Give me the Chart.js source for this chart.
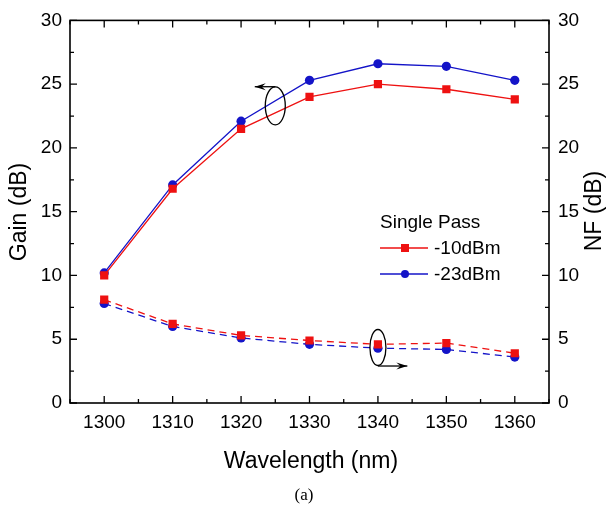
<!DOCTYPE html>
<html>
<head>
<meta charset="utf-8">
<script src="https://cdn.jsdelivr.net/npm/chart.js@4.4.1/dist/chart.umd.min.js"></script>
<style>
  body { margin: 0; background: #fff; }
  #wrap { width: 610px; height: 506px; }
</style>
</head>
<body>
<div id="wrap"><canvas id="gainChart" width="610" height="506"></canvas></div>
<script>
// wavelength points (nm)
const wavelengths = [1300, 1310, 1320, 1330, 1340, 1350, 1360];

// gain (dB), left axis
const gainLow = [10.0, 16.8, 21.5, 24.0, 25.0, 24.6, 23.8];   // -10dBm
const gainHigh = [10.2, 17.1, 22.1, 25.3, 26.6, 26.4, 25.3];  // -23dBm

// noise figure (dB), right axis
const nfLow = [8.1, 6.2, 5.3, 4.9, 4.6, 4.7, 3.9];
const nfHigh = [7.8, 6.0, 5.1, 4.6, 4.3, 4.2, 3.6];

const seriesNames = ['-10dBm', '-23dBm'];
const yTicks = [0, 5, 10, 15, 20, 25, 30];

const RED = '#ee1111';
const BLUE = '#1414c8';
const FONT = "'Liberation Sans', Arial, sans-serif";

function pts(ys) {
    return wavelengths.map((x, i) => ({ x: x, y: ys[i] }));
}

// ellipse + arrow markers (data units: centre, arrow start/end)
const callouts = [
    { cx: 1325, cy: 23.3, rx: 10, ry: 19, ax: [1325, 24.8], bx: [1322, 24.8] },
    { cx: 1340, cy: 4.35, rx: 8, ry: 18, ax: [1340, 2.9], bx: [1344.3, 2.9] }
];

const framePlugin = {
    id: 'frame',
    afterDatasetsDraw(chart) {
        const ctx = chart.ctx;
        const a = chart.chartArea;
        const xs = chart.scales.x, yl = chart.scales.y;

        ctx.save();
        ctx.strokeStyle = '#000';
        ctx.lineWidth = 1.6;
        ctx.strokeRect(a.left, a.top, a.right - a.left, a.bottom - a.top);

        // inward ticks on all four sides
        ctx.lineWidth = 1.3;
        ctx.beginPath();
        for (let v = 1295; v <= 1365; v += 5) {
            const px = xs.getPixelForValue(v);
            const len = v % 10 === 0 ? 7 : 4;
            ctx.moveTo(px, a.bottom); ctx.lineTo(px, a.bottom - len);
            ctx.moveTo(px, a.top); ctx.lineTo(px, a.top + len);
        }
        for (let v = 0; v <= 30; v += 2.5) {
            const py = yl.getPixelForValue(v);
            const len = v % 5 === 0 ? 7 : 4;
            ctx.moveTo(a.left, py); ctx.lineTo(a.left + len, py);
            ctx.moveTo(a.right, py); ctx.lineTo(a.right - len, py);
        }
        ctx.stroke();

        // ellipses with arrows pointing to their axis
        ctx.lineWidth = 1.3;
        callouts.forEach(c => {
            const cx = xs.getPixelForValue(c.cx), cy = yl.getPixelForValue(c.cy);
            ctx.beginPath();
            ctx.ellipse(cx, cy, c.rx, c.ry, 0, 0, Math.PI * 2);
            ctx.stroke();
            const x0 = xs.getPixelForValue(c.ax[0]), y0 = yl.getPixelForValue(c.ax[1]);
            const x1 = xs.getPixelForValue(c.bx[0]), y1 = yl.getPixelForValue(c.bx[1]);
            ctx.beginPath();
            ctx.moveTo(x0, y0); ctx.lineTo(x1, y1);
            ctx.stroke();
            const dir = Math.sign(x1 - x0);
            ctx.beginPath();
            ctx.moveTo(x1, y1);
            ctx.lineTo(x1 - dir * 11, y1 - 3.5);
            ctx.lineTo(x1 - dir * 7, y1);
            ctx.lineTo(x1 - dir * 11, y1 + 3.5);
            ctx.closePath();
            ctx.fillStyle = '#000';
            ctx.fill();
        });

        // legend
        ctx.fillStyle = '#000';
        ctx.font = '19px ' + FONT;
        ctx.textBaseline = 'middle';
        ctx.textAlign = 'left';
        ctx.fillText('Single Pass', 380, 223);
        const rows = [
            { name: seriesNames[0], color: RED, y: 248, shape: 'rect' },
            { name: seriesNames[1], color: BLUE, y: 274, shape: 'circle' }
        ];
        rows.forEach(r => {
            ctx.strokeStyle = r.color;
            ctx.lineWidth = 1.3;
            ctx.beginPath();
            ctx.moveTo(380, r.y); ctx.lineTo(428, r.y);
            ctx.stroke();
            ctx.fillStyle = r.color;
            ctx.beginPath();
            if (r.shape === 'rect') ctx.rect(401, r.y - 4, 8, 8);
            else ctx.arc(405, r.y, 4, 0, Math.PI * 2);
            ctx.fill();
            ctx.fillStyle = '#000';
            ctx.fillText(r.name, 434, r.y + 1);
        });
        ctx.restore();
    },
    afterDraw(chart) {
        const ctx = chart.ctx;
        ctx.save();
        ctx.fillStyle = '#000';
        ctx.textAlign = 'center';
        ctx.textBaseline = 'middle';
        ctx.font = '23px ' + FONT;
        ctx.fillText('Wavelength (nm)', 311, 462);

        // both side titles read bottom-to-top
        ctx.translate(20, 212);
        ctx.rotate(-Math.PI / 2);
        ctx.fillText('Gain (dB)', 0, 0);
        ctx.rotate(Math.PI / 2);
        ctx.translate(575, -1);
        ctx.rotate(-Math.PI / 2);
        ctx.fillText('NF (dB)', 0, 0);
        ctx.restore();

        ctx.save();
        ctx.fillStyle = '#000';
        ctx.textAlign = 'center';
        ctx.textBaseline = 'middle';
        ctx.font = "17px 'Liberation Serif', 'Times New Roman', serif";
        ctx.fillText('(a)', 304, 496);
        ctx.restore();
    }
};

function lineSet(label, ys, color, shape, axis, dashed) {
    return {
        label: label,
        data: pts(ys),
        yAxisID: axis,
        borderColor: color,
        backgroundColor: color,
        borderWidth: 1.3,
        borderDash: dashed ? [7, 5] : [],
        pointStyle: shape,
        pointRadius: shape === 'rect' ? 5.8 : 4.6,
        pointBorderWidth: 0,
        pointBackgroundColor: color,
        tension: 0
    };
}

const tickFont = { family: FONT, size: 19 };

new Chart(document.getElementById('gainChart'), {
    type: 'line',
    data: {
        datasets: [
            lineSet(seriesNames[0], gainLow, RED, 'rect', 'y', false),
            lineSet(seriesNames[0] + ' NF', nfLow, RED, 'rect', 'y2', true),
            lineSet(seriesNames[1], gainHigh, BLUE, 'circle', 'y', false),
            lineSet(seriesNames[1] + ' NF', nfHigh, BLUE, 'circle', 'y2', true)
        ]
    },
    options: {
        responsive: false,
        animation: false,
        layout: { padding: { top: 18, left: 0, right: 0, bottom: 0 } },
        plugins: { legend: { display: false }, tooltip: { enabled: false } },
        scales: {
            x: {
                type: 'linear',
                min: 1295,
                max: 1365,
                afterFit(s) { s.height = 103; },
                afterBuildTicks(s) {
                    s.ticks = [];
                    for (let v = 1295; v <= 1365; v += 5) s.ticks.push({ value: v });
                },
                ticks: {
                    autoSkip: false,
                    maxRotation: 0,
                    padding: 8,
                    color: '#000',
                    font: tickFont,
                    callback: v => (v % 10 === 0 ? String(v) : '')
                },
                grid: { display: false, drawTicks: false },
                border: { display: false }
            },
            y: {
                position: 'left',
                min: 0,
                max: 30,
                afterFit(s) { s.width = 70; },
                afterBuildTicks(s) { s.ticks = yTicks.map(v => ({ value: v })); },
                ticks: { padding: 8, color: '#000', font: tickFont },
                grid: { display: false, drawTicks: false },
                border: { display: false }
            },
            y2: {
                position: 'right',
                min: 0,
                max: 30,
                afterFit(s) { s.width = 61; },
                afterBuildTicks(s) { s.ticks = yTicks.map(v => ({ value: v })); },
                ticks: { padding: 9, color: '#000', font: tickFont },
                grid: { display: false, drawTicks: false },
                border: { display: false }
            }
        }
    },
    plugins: [framePlugin]
});
</script>
</body>
</html>
